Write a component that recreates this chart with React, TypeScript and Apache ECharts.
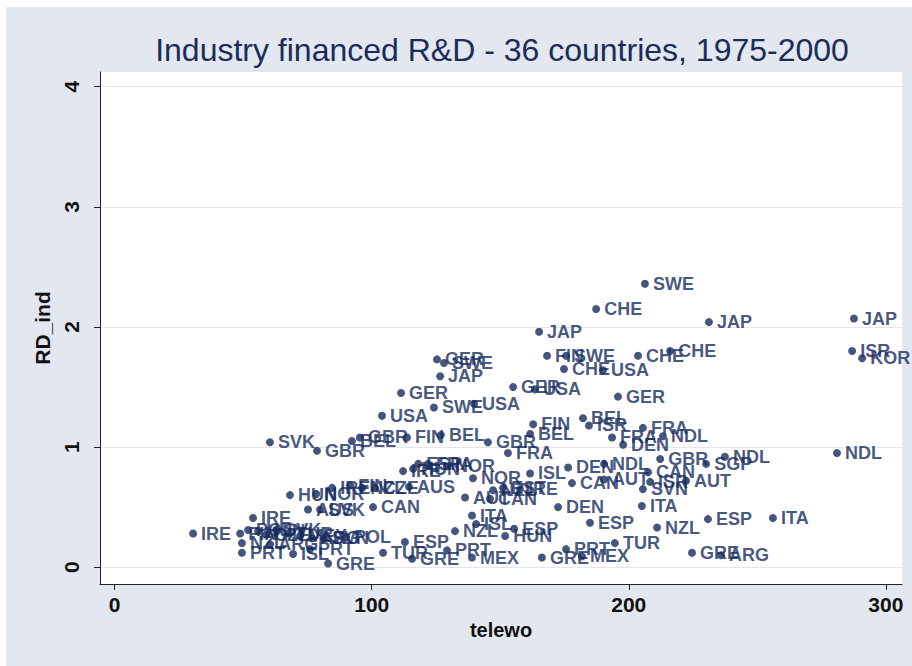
import React, { useEffect, useRef } from "react";
import * as echarts from "echarts";

const countries = [
  "SWE","CHE","JAP","JAP","JAP","ISR","KOR","FIN","SWE","CHE",
  "USA","CHE","CHE","GER","SWE","JAP","GER","SWE","USA","USA",
  "GER","USA","GER","FIN","BEL","ISR","FRA","FRA","NDL","DEN",
  "GBR","FRA","BEL","SVK","GBR","BEL","GBR","FIN","BEL","DEN",
  "NDL","GBR","CAN","SGP","NDL","CAN","AUT","ISR","AUT","SVN",
  "ITA","DEN","ESP","NZL","ESP","TUR","PRT","GRE","ARG","GRE",
  "MEX","NDL","ITA","ESP","FRA","NOR","IRE","HUN","NOR","ISL",
  "NZL","CZE","AUS","IRE","FIN","NZL","EST","IRE","AUT","CAN",
  "CAN","ITA","NZL","ISL","ESP","HUN","TUR","ESP","GRE","PRT",
  "MEX","POL","HUN","NOR","AUS","SVK","IRE","IRE","FIN","POL",
  "HUN","CZE","SVK","TUR","MEX","ARG","SVN","NZL","PRT","ISL",
  "PRT","GRE","ARG"
];

const telewo = [
  206.3,187.3,231.2,287.6,165.1,286.9,290.8,168.2,175.6,174.8,
  190.0,203.6,216.1,125.4,128.1,126.6,111.4,124.2,104.0,139.8,
  155.0,163.5,195.8,162.8,182.2,184.5,193.5,205.5,213.3,197.8,
  145.2,153.0,161.6,60.4,78.7,92.3,95.4,113.7,126.9,176.4,
  190.4,212.2,207.5,230.1,237.4,177.9,190.4,208.3,222.3,205.5,
  205.1,172.5,184.9,211.0,230.8,194.6,175.6,224.6,235.9,166.2,
  181.8,281.0,256.1,118.1,121.9,129.3,112.2,116.1,139.4,161.6,
  96.3,101.3,114.5,84.6,91.6,147.2,151.1,157.7,136.3,146.0,
  100.5,139.0,132.4,140.6,155.4,151.9,104.4,112.9,115.7,129.3,
  139.0,90.0,68.2,78.4,75.2,79.9,53.8,30.5,48.8,51.9,
  55.8,58.9,62.8,67.5,72.1,76.8,81.4,49.5,49.5,69.4,
  76.0,83.0,60.5
];

const rdInd = [
  2.36,2.15,2.04,2.07,1.96,1.80,1.74,1.76,1.76,1.65,
  1.64,1.76,1.80,1.73,1.70,1.59,1.45,1.33,1.26,1.36,
  1.50,1.48,1.42,1.19,1.24,1.18,1.08,1.16,1.09,1.02,
  1.04,0.95,1.11,1.04,0.97,1.05,1.08,1.08,1.10,0.83,
  0.86,0.90,0.79,0.86,0.92,0.70,0.73,0.71,0.72,0.65,
  0.51,0.50,0.37,0.33,0.40,0.20,0.15,0.12,0.10,0.08,
  0.09,0.95,0.41,0.86,0.86,0.84,0.80,0.82,0.74,0.78,
  0.66,0.66,0.67,0.66,0.68,0.64,0.66,0.65,0.58,0.57,
  0.50,0.43,0.30,0.36,0.32,0.26,0.12,0.21,0.07,0.14,
  0.08,0.25,0.60,0.61,0.48,0.48,0.41,0.28,0.28,0.31,
  0.30,0.27,0.31,0.28,0.26,0.24,0.24,0.20,0.12,0.11,
  0.15,0.03,0.19
];

const xTicks = [0, 100, 200, 300];
const yTicks = [0, 1, 2, 3, 4];

const NAVY = "#172b5e";
const FONT = "'Liberation Sans', Arial, sans-serif";

export default function App() {
  const ref = useRef<HTMLDivElement>(null);
  useEffect(() => {
    if (!ref.current) return;
    const chart = echarts.init(ref.current, null, { renderer: "svg" });
    const data = countries.map((c, i) => ({ name: c, value: [telewo[i], rdInd[i]] }));
    chart.setOption({
      animation: false,
      backgroundColor: "#ffffff",
      textStyle: { fontFamily: FONT },
      graphic: [
        {
          type: "rect",
          z: -10,
          silent: true,
          shape: { x: 6, y: 7, width: 906, height: 659 },
          style: { fill: "#E2E7F0" },
        },
      ],
      title: {
        text: "Industry financed R&D - 36 countries, 1975-2000",
        left: 497,
        textAlign: "center",
        top: 29,
        textStyle: { fontSize: 32, fontWeight: "normal", color: "#1b2c58", fontFamily: FONT },
      },
      grid: {
        left: 100,
        top: 72,
        width: 802,
        height: 512,
        show: true,
        backgroundColor: "#ffffff",
        borderWidth: 0,
      },
      xAxis: {
        type: "value",
        min: -5.72,
        max: 306.3,
        name: "telewo",
        nameLocation: "middle",
        nameGap: 36,
        nameTextStyle: { fontSize: 20, fontWeight: "bold", color: "#111", fontFamily: FONT },
        axisLine: { show: true, onZero: false, lineStyle: { color: "#222", width: 1 } },
        axisTick: { show: true, length: 6, customValues: xTicks, lineStyle: { color: "#222" } },
        axisLabel: { customValues: xTicks, fontSize: 21, fontWeight: "bold", color: "#111", margin: 10, fontFamily: FONT },
        splitLine: { show: false },
      },
      yAxis: {
        type: "value",
        min: -0.14,
        max: 4.1225,
        name: "RD_ind",
        nameLocation: "middle",
        nameGap: 46,
        nameTextStyle: { fontSize: 21, fontWeight: "bold", color: "#111", fontFamily: FONT },
        axisLine: { show: true, onZero: false, lineStyle: { color: "#222", width: 1 } },
        axisTick: { show: true, length: 6, customValues: yTicks, lineStyle: { color: "#222" } },
        axisLabel: { customValues: yTicks, rotate: 90, fontSize: 21, fontWeight: "bold", color: "#111", margin: 18, fontFamily: FONT },
        splitLine: { show: true, lineStyle: { color: "#e3e5ea", width: 1 } },
      },
      series: [
        {
          type: "scatter",
          data,
          symbol: "circle",
          symbolSize: 8,
          itemStyle: { color: NAVY },
          label: {
            show: true,
            position: "right",
            distance: 4,
            formatter: (p: any) => p.name,
            color: NAVY,
            fontSize: 18,
            fontWeight: "bold",
            fontFamily: FONT,
          },
          labelLayout: { hideOverlap: false },
        },
      ],
    });
    return () => chart.dispose();
  }, []);
  return (
    <div
      ref={ref}
      style={{ position: "fixed", left: 0, top: 0, width: 912, height: 666 }}
    />
  );
}
